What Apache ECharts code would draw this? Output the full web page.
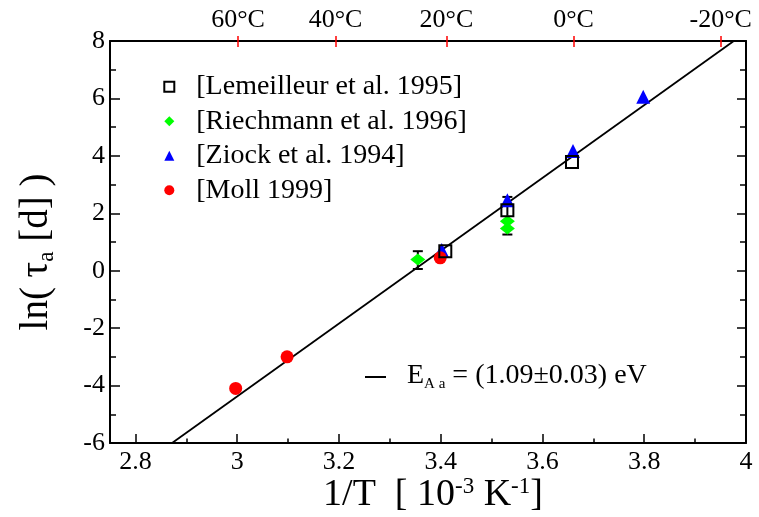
<!DOCTYPE html>
<html>
<head>
<meta charset="utf-8">
<script src="https://cdn.jsdelivr.net/npm/echarts@6/dist/echarts.min.js"></script>
<style>html,body{margin:0;padding:0;background:#fff}#c{width:759px;height:517px}</style>
</head>
<body>
<div id="c"></div>
<script>
// ---- data ----
const lemX = [3.409, 3.531, 3.658];
const lemY = [0.68, 2.11, 3.79];
const riechX = [3.355, 3.531, 3.531];
const riechY = [0.39, 1.72, 1.47];
const ziockX = [3.402, 3.531, 3.660, 3.798];
const ziockY = [0.72, 2.45, 4.17, 6.06];
const mollX = [2.997, 3.098, 3.399];
const mollY = [-4.10, -3.00, 0.45];
const errX = [3.355, 3.531];
const errLo = [0.06, 1.26];
const errHi = [0.68, 2.57];
const fitX = [2.872, 3.976];
const fitY = [-6, 8];
const xMajorTicks = [2.8, 3.0, 3.2, 3.4, 3.6, 3.8, 4.0];
const xMinorTicks = [2.9, 3.1, 3.3, 3.5, 3.7, 3.9];
const tempC = [60, 40, 20, 0, -20];
const tempLabels = ['60°C', '40°C', '20°C', '0°C', '-20°C'];
const seriesNames = ['[Lemeilleur et al. 1995]', '[Riechmann et al. 1996]', '[Ziock et al. 1994]', '[Moll 1999]'];

const zip = (xs, ys) => xs.map((x, i) => [x, ys[i]]);
const tempPos = tempC.map(t => 1000 / (t + 273.15));
const FONT = 'Liberation Serif';

const chart = echarts.init(document.getElementById('c'), null, {renderer: 'canvas'});
const mkLine = () => ({show: true, onZero: false, lineStyle: {color: '#000', width: 2}});
const lbl = (size, extra) => Object.assign({fontFamily: FONT, fontSize: size, color: '#000'}, extra);
const option = {
  backgroundColor: '#fff',
  animation: false,
  textStyle: {fontFamily: FONT, color: '#000'},
  grid: {left: 110, top: 41, right: 13, bottom: 74, containLabel: false},
  legend: {
    orient: 'vertical', left: 158.3, top: 67.7, itemWidth: 10, itemHeight: 10, itemGap: 6.5,
    textStyle: {fontFamily: FONT, fontSize: 28, color: '#000', lineHeight: 28, padding: [0, 0, 0, 17]},
    data: [
      {name: seriesNames[0], icon: 'rect', itemStyle: {color: 'transparent', borderColor: '#000', borderWidth: 2}},
      {name: seriesNames[1], icon: 'diamond', itemStyle: {color: '#00ff00'}},
      {name: seriesNames[2], icon: 'triangle', itemStyle: {color: '#0000ff'}},
      {name: seriesNames[3], icon: 'circle', itemStyle: {color: '#ff0000'}}
    ]
  },
  xAxis: [
    {type: 'value', position: 'bottom', min: 2.75, max: 4.0, axisLine: mkLine(),
     splitLine: {show: false},
     axisTick: {show: true, inside: true, length: 9, lineStyle: {color: '#000', width: 1.5}, customValues: xMajorTicks},
     axisLabel: lbl(26, {customValues: xMajorTicks, margin: 6,
       formatter: v => String(parseFloat(Number(v).toFixed(2)))})},
    {type: 'value', position: 'bottom', min: 2.75, max: 4.0, axisLine: {show: false, onZero: false},
     splitLine: {show: false},
     axisTick: {show: true, inside: true, length: 4.5, lineStyle: {color: '#000', width: 1.5}, customValues: xMinorTicks},
     axisLabel: {show: false}},
    {type: 'value', position: 'top', min: 2.75, max: 4.0, axisLine: mkLine(),
     splitLine: {show: false},
     axisTick: {show: true, inside: false, length: 5, lineStyle: {color: '#ff0000', width: 1.5}, customValues: tempPos},
     axisLabel: lbl(26, {customValues: tempPos, margin: 8,
       formatter: v => {
         let best = 0;
         tempPos.forEach((p, i) => { if (Math.abs(p - v) < Math.abs(tempPos[best] - v)) best = i; });
         return tempLabels[best];
       }})},
    {type: 'value', position: 'top', min: 2.75, max: 4.0, axisLine: {show: false, onZero: false},
     splitLine: {show: false},
     axisTick: {show: true, inside: true, length: 6, lineStyle: {color: '#ff0000', width: 1.5}, customValues: tempPos},
     axisLabel: {show: false}}
  ],
  yAxis: [
    {type: 'value', position: 'left', min: -6, max: 8, interval: 2, axisLine: mkLine(),
     splitLine: {show: false}, minorSplitLine: {show: false},
     axisTick: {show: true, inside: true, length: 10, lineStyle: {color: '#000', width: 1.5}},
     minorTick: {show: true, splitNumber: 2, length: 6, lineStyle: {color: '#000', width: 1.5}},
     axisLabel: lbl(26, {margin: 5})},
    {type: 'value', position: 'right', min: -6, max: 8, interval: 2, axisLine: mkLine(),
     splitLine: {show: false}, minorSplitLine: {show: false},
     axisTick: {show: true, inside: true, length: 9, lineStyle: {color: '#000', width: 1.5}},
     minorTick: {show: true, splitNumber: 2, length: 6, lineStyle: {color: '#000', width: 1.5}},
     axisLabel: {show: false}}
  ],
  series: [
    {type: 'line', name: 'fit', data: zip(fitX, fitY), showSymbol: false, symbol: 'none',
     lineStyle: {color: '#000', width: 1.8}, z: 1, silent: true},
    {type: 'custom', name: 'err', z: 2, data: errX.map((x, i) => [x, errLo[i], errHi[i]]),
     renderItem: (params, api) => {
       const lo = api.coord([api.value(0), api.value(1)]);
       const hi = api.coord([api.value(0), api.value(2)]);
       const w = 5;
       const st = {stroke: '#000', lineWidth: 2};
       return {type: 'group', children: [
         {type: 'line', shape: {x1: lo[0], y1: lo[1], x2: hi[0], y2: hi[1]}, style: st},
         {type: 'line', shape: {x1: lo[0] - w, y1: lo[1], x2: lo[0] + w, y2: lo[1]}, style: st},
         {type: 'line', shape: {x1: hi[0] - w, y1: hi[1], x2: hi[0] + w, y2: hi[1]}, style: st}
       ]};
     }},
    {type: 'scatter', name: seriesNames[2], data: zip(ziockX, ziockY), symbol: 'triangle', symbolSize: 14,
     itemStyle: {color: '#0000ff', opacity: 1}, z: 3},
    {type: 'scatter', name: seriesNames[3], data: zip(mollX, mollY), symbol: 'circle', symbolSize: 13,
     itemStyle: {color: '#ff0000', opacity: 1}, z: 4},
    {type: 'scatter', name: seriesNames[1], data: zip(riechX, riechY), symbol: 'diamond', symbolSize: [15, 12],
     itemStyle: {color: '#00ff00', opacity: 1}, z: 4},
    {type: 'scatter', name: seriesNames[0], data: zip(lemX, lemY), symbol: 'rect', symbolSize: 12,
     itemStyle: {color: 'transparent', borderColor: '#000', borderWidth: 2, opacity: 1}, z: 5}
  ],
  graphic: [
    {type: 'text', x: 37, y: 252, rotation: Math.PI / 2,
     style: {text: 'ln( τ{sub|a} [d] )', fontFamily: FONT, fontSize: 39, fill: '#000', align: 'center', verticalAlign: 'middle',
       lineHeight: 42,
       rich: {sub: {fontFamily: FONT, fontSize: 23, verticalAlign: 'bottom', lineHeight: 23, fill: '#000'}}}},
    {type: 'text', x: 433, y: 495,
     style: {text: '1/T  [ 10{sup|-3} K{sup|-1}]', fontFamily: FONT, fontSize: 38, fill: '#000', align: 'center', verticalAlign: 'middle',
       lineHeight: 40,
       rich: {sup: {fontFamily: FONT, fontSize: 23, verticalAlign: 'top', lineHeight: 23, fill: '#000'}}}},
    {type: 'line', shape: {x1: 365, y1: 377, x2: 386, y2: 377}, style: {stroke: '#000', lineWidth: 2}},
    {type: 'text', x: 407, y: 376,
     style: {text: 'E{sub|A a} = (1.09±0.03) eV', fontFamily: FONT, fontSize: 28, fill: '#000', align: 'left', verticalAlign: 'middle',
       lineHeight: 32,
       rich: {sub: {fontFamily: FONT, fontSize: 15, verticalAlign: 'bottom', lineHeight: 15, fill: '#000'}}}}
  ]
};
chart.setOption(option);
</script>
</body>
</html>
